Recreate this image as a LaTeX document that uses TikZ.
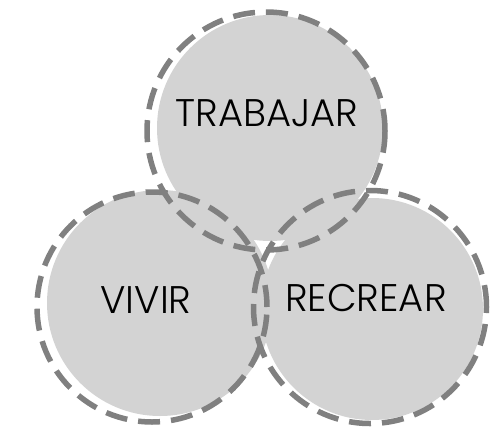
\documentclass[tikz,border=0pt]{standalone}
\usepackage{fontspec}
\IfFontExistsTF{Poppins Light}{\setmainfont{Poppins Light}}{\setmainfont{Poppins}}
\definecolor{ringgray}{RGB}{128,128,128}
\definecolor{fillgray}{RGB}{211,211,211}
\begin{document}
\begin{tikzpicture}[x=1pt,y=-1pt,
  disc/.style={circle,fill=fillgray,inner sep=0pt,minimum size=#1},
  ring/.style={circle,draw=ringgray,line width=5.5pt,dash pattern=on 22pt off 11pt,inner sep=0pt,minimum size=#1},
  lbl/.style={font=\fontsize{38.5}{42}\selectfont,text=black,inner sep=0pt}]
\useasboundingbox (0,0) rectangle (490,429);
% fills
\node[disc=226pt] (tf) at (270,128) {};
\node[disc=226pt] (lf) at (160,303) {};
\node[disc=222pt] (rf) at (372,309) {};
% dashed rings
\node[ring=238pt] (tr) at (266,131) {};
\node[ring=230pt] (lr) at (152,307) {};
\node[ring=233pt] (rr) at (370,307) {};
% labels
\node[lbl] (tt) at (267,113) {TRABAJAR};
\node[lbl] (lt) at (146,300) {VIVIR};
\node[lbl] (rt) at (366,298) {RECREAR};
\end{tikzpicture}
\end{document}
